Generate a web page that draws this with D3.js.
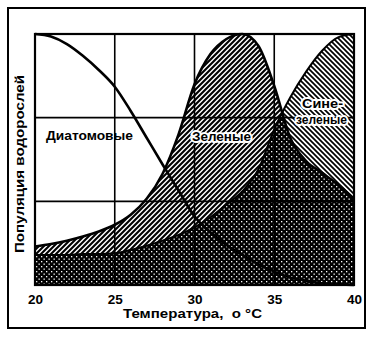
<!DOCTYPE html>
<html><head><meta charset="utf-8">
<script src="https://cdn.jsdelivr.net/npm/d3@7"></script>
<style>
body{margin:0;background:#fff}
svg{display:block}
text{font-family:"Liberation Sans",Arial,sans-serif;font-weight:bold;fill:#000}
</style>
</head><body>
<svg id="c" width="374" height="338"></svg>
<script>
// ---- data ----
const temps      = [20,21,22,23,24,25,26,27,28,29,30,31,32,33,34,35,36,37,38,39,40];
const diatoms    = [3.00,2.97,2.88,2.74,2.57,2.37,2.08,1.76,1.44,1.13,0.82,0.63,0.48,0.36,0.25,0.16,0.09,0.05,0.02,0.01,0.00];
const greens     = [0.46,0.49,0.53,0.58,0.64,0.72,0.84,1.03,1.33,1.80,2.40,2.76,2.94,3.00,2.86,2.38,1.76,1.48,1.34,1.20,1.03];
const blueGreens = [0.36,0.36,0.36,0.37,0.37,0.38,0.42,0.47,0.53,0.60,0.69,0.81,0.96,1.12,1.38,1.86,2.24,2.55,2.80,2.96,3.00];
const xTicks     = [20,25,30,35,40];
const xGrid      = [25,30,35];
const yGrid      = [1,2];
const xTitle     = "Температура,  о °С";
const yTitle     = "Популяция водорослей";
const seriesNames = ["Диатомовые","Зеленые","Сине-","зеленые"];

// ---- layout ----
const svg = d3.select("#c");
const x = d3.scaleLinear().domain([20,40]).range([35,354]);
const y = d3.scaleLinear().domain([0,3]).range([285,34]);
const rows = temps.map((t,i)=>({t, d:diatoms[i], g:greens[i], b:blueGreens[i]}));

const defs = svg.append("defs");
// green: "/" hatch
const pg = defs.append("pattern").attr("id","hG").attr("patternUnits","userSpaceOnUse").attr("width",5).attr("height",5);
pg.append("rect").attr("width",5).attr("height",5).attr("fill","#fff");
pg.append("path").attr("d","M-1,1 l2,-2 M0,5 l5,-5 M4,6 l2,-2").attr("stroke","#000").attr("stroke-width",2.1);
// blue-green: "\" hatch
const pb = defs.append("pattern").attr("id","hB").attr("patternUnits","userSpaceOnUse").attr("width",5).attr("height",5);
pb.append("rect").attr("width",5).attr("height",5).attr("fill","#fff");
pb.append("path").attr("d","M-1,4 l2,2 M0,0 l5,5 M4,-1 l2,2").attr("stroke","#000").attr("stroke-width",1.7);
// overlap: dense crosshatch
const pc = defs.append("pattern").attr("id","hC").attr("patternUnits","userSpaceOnUse").attr("width",5).attr("height",5);
pc.append("rect").attr("width",5).attr("height",5).attr("fill","#000");
pc.append("rect").attr("x",1).attr("y",1).attr("width",1.3).attr("height",1.3).attr("fill","#fff");
pc.append("rect").attr("x",3.5).attr("y",3.5).attr("width",1.3).attr("height",1.3).attr("fill","#fff");

const curve = d3.curveMonotoneX;
const areaG = d3.area().curve(curve).x(d=>x(d.t)).y0(y(0)).y1(d=>y(d.g));
const areaB = d3.area().curve(curve).x(d=>x(d.t)).y0(y(0)).y1(d=>y(d.b));
const lineG = d3.line().curve(curve).x(d=>x(d.t)).y(d=>y(d.g));
const lineB = d3.line().curve(curve).x(d=>x(d.t)).y(d=>y(d.b));
const lineD = d3.line().curve(curve).x(d=>x(d.t)).y(d=>y(d.d));

defs.append("clipPath").attr("id","clipG").append("path").attr("d",areaG(rows));

// outer frame
svg.append("rect").attr("x",8).attr("y",8).attr("width",357).attr("height",320)
  .attr("fill","none").attr("stroke","#000").attr("stroke-width",2);

// fills
svg.append("path").attr("d",areaG(rows)).attr("fill","url(#hG)");
svg.append("path").attr("d",areaB(rows)).attr("fill","url(#hB)");
svg.append("path").attr("d",areaB(rows)).attr("fill","url(#hC)").attr("clip-path","url(#clipG)");

// grid
const grid = svg.append("g").attr("stroke","#000").attr("stroke-width",1.6);
grid.selectAll("line.v").data(xGrid).join("line").attr("class","v")
  .attr("x1",d=>x(d)).attr("x2",d=>x(d)).attr("y1",y(0)).attr("y2",y(3));
grid.selectAll("line.h").data(yGrid).join("line").attr("class","h")
  .attr("x1",x(20)).attr("x2",x(40)).attr("y1",d=>y(d)).attr("y2",d=>y(d));

// curves
svg.append("path").attr("d",lineB(rows)).attr("fill","none").attr("stroke","#000").attr("stroke-width",2);
svg.append("path").attr("d",lineG(rows)).attr("fill","none").attr("stroke","#000").attr("stroke-width",2.6);
svg.append("path").attr("d",lineD(rows)).attr("fill","none").attr("stroke","#000").attr("stroke-width",2.6);

// plot border
svg.append("rect").attr("x",x(20)).attr("y",y(3)).attr("width",x(40)-x(20)).attr("height",y(0)-y(3))
  .attr("fill","none").attr("stroke","#000").attr("stroke-width",2.2);

// x axis labels
const ax = svg.append("g").attr("transform",`translate(0,${y(0)})`)
  .call(d3.axisBottom(x).tickValues(xTicks).tickSize(0).tickPadding(9).tickFormat(d3.format("d")));
ax.select(".domain").remove();
ax.selectAll("text").attr("font-size",13.5).attr("font-family",null).style("font-weight","bold");

// titles
svg.append("text").attr("x",123).attr("y",318).attr("font-size",12.5)
  .attr("xml:space","preserve").style("white-space","pre")
  .attr("textLength",139).attr("lengthAdjust","spacingAndGlyphs").text(xTitle);
svg.append("text").attr("transform","translate(24,164) rotate(-90)").attr("text-anchor","middle")
  .attr("font-size",12).attr("textLength",178).attr("lengthAdjust","spacingAndGlyphs").text(yTitle);

// series labels
const lab = [
  {s:seriesNames[0], x:46,  y:140, w:87, halo:false},
  {s:seriesNames[1], x:192, y:141, w:59, halo:true},
  {s:seriesNames[2], x:302, y:108, w:41, halo:true},
  {s:seriesNames[3], x:296, y:124, w:51, halo:true}
];
svg.selectAll("text.lab").data(lab).join("text").attr("class","lab")
  .attr("x",d=>d.x).attr("y",d=>d.y).attr("font-size",13)
  .attr("textLength",d=>d.w).attr("lengthAdjust","spacingAndGlyphs")
  .attr("stroke",d=>d.halo?"#fff":"none").attr("stroke-width",4).attr("paint-order","stroke")
  .attr("stroke-linejoin","round")
  .text(d=>d.s);
</script>
</body></html>
